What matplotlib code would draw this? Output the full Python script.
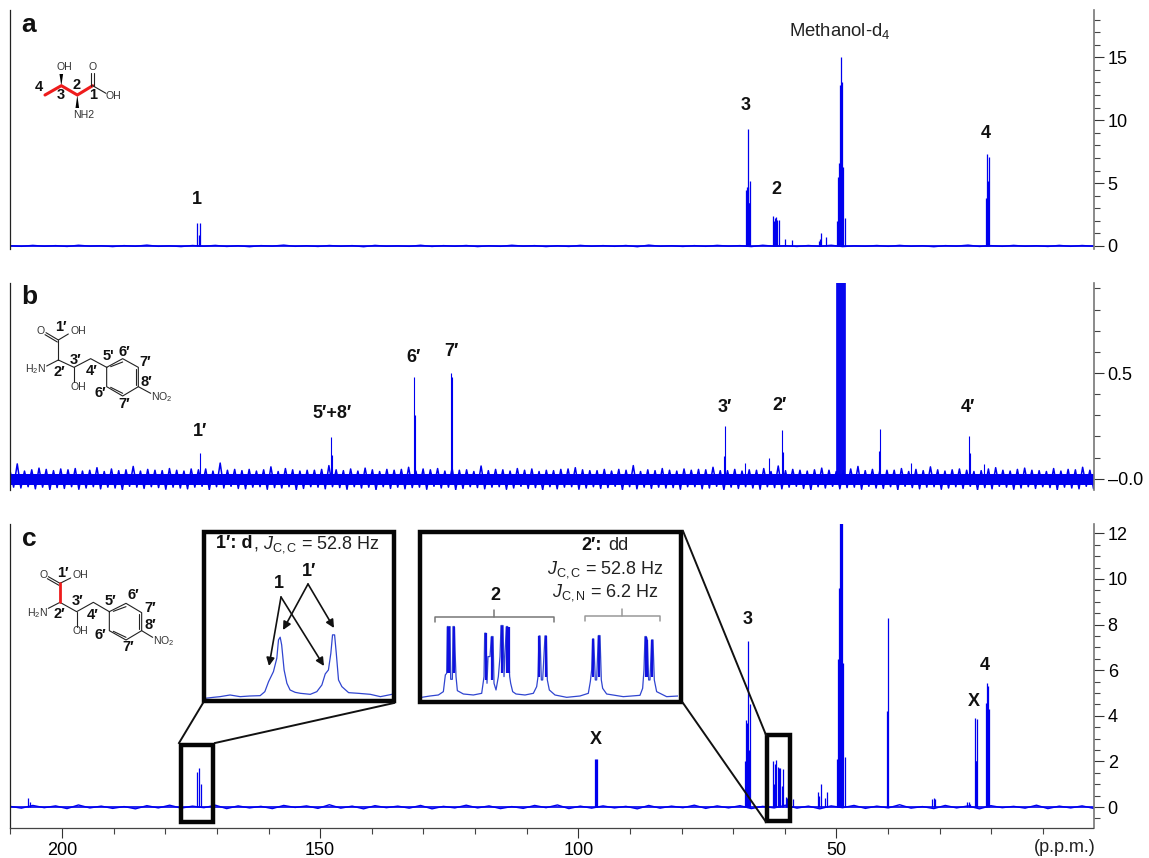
import numpy as np
import matplotlib
matplotlib.use("Agg")
import matplotlib.pyplot as plt
from matplotlib.patches import Rectangle
from matplotlib.ticker import MultipleLocator, FixedLocator, FixedFormatter

plt.rcParams['font.family'] = ['Liberation Sans', 'DejaVu Sans']
plt.rcParams['mathtext.fontset'] = 'custom'
plt.rcParams['mathtext.rm'] = 'Liberation Sans'
plt.rcParams['mathtext.it'] = 'Liberation Sans:italic'
plt.rcParams['mathtext.bf'] = 'Liberation Sans:bold'

W, H = 1149, 858
BLUE = '#0000ee'

# Panel a: threonine peaks, ppm and intensity
a_ppm = [173.8, 173.5, 173.3,
         67.5, 67.3, 67.18, 67.05, 66.95, 66.86, 66.67,
         62.27, 62.08, 61.82, 61.63, 61.43, 61.18, 59.88, 58.53,
         53.36, 53.16, 52.91, 51.94,
         49.87, 49.61, 49.42, 49.22, 49.03, 48.84, 48.64, 48.38,
         20.99, 20.80, 20.61, 20.41]
a_int = [1.83, 0.9, 1.8,
         4.45, 4.7, 4.7, 9.3, 3.4, 3.4, 5.2,
         2.4, 2.0, 2.25, 2.3, 2.1, 2.1, 0.55, 0.45,
         0.4, 0.55, 1.0, 0.7,
         2.0, 5.5, 6.6, 12.8, 15.0, 13.0, 6.3, 2.2,
         3.8, 7.3, 5.2, 7.1]
a_noise = [0.02, -0.03, 0.05, -0.02, 0.03, -0.04, 0.06, -0.01, 0.02, -0.05, 0.03, -0.02, 0.07, -0.03, 0.01, -0.05,
           0.04, -0.02, 0.05, -0.04, 0.02, -0.06, 0.03, -0.01, 0.07, -0.03, 0.02, -0.04, 0.04, -0.02, 0.03, -0.06,
           0.05, -0.02, 0.01, -0.03, 0.06, -0.04, 0.03, -0.02, 0.04, -0.05, 0.02, -0.03, 0.06, -0.01, 0.03, -0.05,
           0.02, -0.04, 0.05, -0.02, 0.03, -0.03, 0.04, -0.06, 0.07, -0.02, 0.02, -0.04, 0.03, -0.03, 0.05, -0.01,
           0.03, -0.05, 0.06, -0.02, 0.02, -0.04, 0.04, -0.03, 0.06, -0.05, 0.01, -0.02, 0.04, -0.03, 0.05, -0.02,
           0.02, -0.06, 0.03, -0.01, 0.07, -0.04, 0.03, -0.03, 0.05, -0.02, 0.02, -0.04, 0.05, -0.03, 0.04, -0.02]

# Panel b: natural abundance spectrum
b_ppm = [173.2, 147.87, 147.7, 131.78, 131.6, 124.6, 124.4,
         71.84, 71.64, 67.77, 63.1, 60.53, 60.34,
         41.67, 41.48, 35.53, 24.36, 24.16, 21.45]
b_int = [0.123, 0.196, 0.11, 0.48, 0.30, 0.50, 0.48,
         0.107, 0.25, 0.073, 0.096, 0.23, 0.128,
         0.13, 0.235, 0.073, 0.2, 0.12, 0.07]
b_solvent_ppm = [49.87, 49.7, 49.5, 49.3, 49.1, 48.9, 48.7, 48.5, 48.26]
b_solvent_int = [1.0, 1.0, 1.0, 1.0, 1.0, 1.0, 1.0, 1.0, 1.0]
# noise read in thousandths, alternately above and below the baseline
b_noise = [38, -40, 70, -44, 36, -38, 42, -48, 50, -40, 44, -52, 38, -42, 46, -46, 42, -38, 48, -50,
           36, -44, 40, -38, 52, -48, 34, -40, 46, -44, 38, -52, 42, -36, 58, -40, 36, -46, 44, -38,
           40, -42, 38, -50, 48, -40, 40, -44, 36, -48, 46, -40, 42, -36, 46, -52, 36, -38, 74, -44,
           40, -36, 44, -46, 38, -48, 44, -40, 36, -38, 42, -50, 56, -42, 34, -44, 48, -38, 42, -52,
           36, -46, 40, -38, 40, -40, 44, -48, 62, -38, 42, -42, 38, -50, 46, -38, 36, -44, 50, -40,
           42, -52, 34, -38, 44, -46, 40, -40, 44, -48, 54, -42, 36, -40, 46, -50, 42, -36, 48, -44,
           36, -40, 50, -52, 40, -46, 42, -38, 34, -42, 60, -48, 38, -40, 44, -38, 42, -50, 36, -44,
           48, -36, 40, -46, 46, -42, 34, -52, 40, -38, 38, -48, 44, -40, 46, -38, 52, -50, 42, -44,
           38, -38, 38, -46, 44, -42, 36, -36, 44, -52, 40, -38, 62, -48, 34, -40, 42, -46, 38, -40,
           48, -44, 40, -42, 36, -50, 46, -38, 40, -38, 44, -48, 42, -44, 54, -36, 38, -52, 38, -40,
           44, -46, 36, -38, 42, -44, 40, -50, 48, -38, 34, -42, 60, -48, 38, -40, 44, -36, 40, -46,
           36, -52, 42, -38, 50, -44, 40, -36, 34, -48, 38, -42, 46, -40, 58, -50, 38, -36, 44, -44,
           36, -46, 40, -38, 40, -52, 48, -36, 34, -42, 44, -48, 38, -40, 56, -38, 42, -50, 36, -44,
           42, -38, 46, -46, 40, -36, 34, -52, 38, -42, 46, -48, 52, -36, 40, -40, 36, -50, 44, -44,
           50, -38, 40, -46, 38, -38, 34, -42, 48, -52, 36, -40, 44, -44, 42, -48, 54, -36, 40, -46]

# Panel c: labelled sample
c_ppm = [206.5, 206.2, 173.78, 173.4, 173.1, 96.7, 96.5, 96.3,
         67.7, 67.5, 67.3, 67.12, 66.99, 66.73,
         62.27, 62.08, 61.82, 61.63, 61.37, 61.11, 60.85, 60.6, 60.27, 59.82, 59.56, 58.4,
         53.55, 53.36, 52.91, 52.13, 51.87,
         49.87, 49.61, 49.42, 49.22, 49.03, 48.84, 48.64, 48.38,
         40.12, 39.92, 31.46, 31.14, 30.94, 24.68, 24.35, 24.16,
         23.13, 23.0, 22.93, 22.67, 20.99, 20.80, 20.61, 20.41]
c_int = [0.4, 0.2, 1.55, 1.7, 1.0, 2.09, 2.09, 2.09,
         2.0, 3.8, 3.7, 7.3, 2.5, 4.5,
         2.0, 1.0, 1.9, 2.05, 1.75, 1.7, 1.7, 0.9, 1.65, 0.45, 0.4, 0.35,
         0.65, 0.5, 1.0, 0.4, 0.65,
         2.1, 6.5, 9.6, 13.0, 13.0, 13.0, 6.3, 2.2,
         4.2, 8.3, 0.35, 0.38, 0.35, 0.2, 0.22, 0.15,
         3.9, 2.0, 2.0, 3.85, 4.55, 5.45, 5.3, 4.3]
c_noise = [0.03, -0.05, 0.07, -0.03, 0.05, -0.07, 0.09, -0.04, 0.04, -0.06, 0.02, -0.08, 0.06, -0.04, 0.08, -0.05,
           0.04, -0.03, 0.08, -0.07, 0.05, -0.04, 0.03, -0.07, 0.07, -0.02, 0.05, -0.06, 0.1, -0.05, 0.04, -0.08,
           0.06, -0.03, 0.04, -0.05, 0.07, -0.08, 0.03, -0.04, 0.08, -0.04, 0.05, -0.07, 0.02, -0.06, 0.07, -0.03,
           0.09, -0.07, 0.04, -0.05, 0.05, -0.04, 0.03, -0.08, 0.07, -0.05, 0.04, -0.03, 0.08, -0.06, 0.05, -0.04,
           0.06, -0.07, 0.03, -0.04, 0.08, -0.05, 0.04, -0.08, 0.05, -0.03, 0.07, -0.06, 0.04, -0.04, 0.1, -0.05,
           0.02, -0.07, 0.07, -0.04, 0.05, -0.08, 0.06, -0.03, 0.03, -0.05, 0.08, -0.07, 0.04, -0.04, 0.05, -0.06]

# Inset spectra, position across the inset and height above its floor
inset1_x = [0, 4.5, 8, 13.4, 18.8, 24, 29.5, 32, 34, 36.6, 38.4, 39.3, 40.2, 41, 42.3, 43.8, 45.5, 48.2, 51, 56.3,
            59.8, 62.5, 64.3, 66, 67.3, 68.2, 69.3, 70.2, 71.4, 73.2, 76.8, 82, 88.4, 93.8, 100]
inset1_y = [2.5, 4, 5, 7.5, 5, 6, 6.5, 12.5, 27.5, 42.5, 62.5, 90, 94, 82.5, 45, 25, 15, 11.5, 10, 8.5,
            12.5, 22.5, 39, 45, 70, 97.5, 97.5, 70, 30, 20, 11, 10, 8.5, 5, 8.5]

inset2_x = [35, 60, 85, 100, 106, 110, 112, 115, 117, 120, 122, 127, 129, 133, 135, 138, 142, 160, 190, 215,
            222, 224, 228, 231, 234, 240, 244, 249, 252, 258, 265, 270, 273, 279, 282, 285, 289, 293, 296, 299, 302, 308, 318, 345, 370,
            380, 384, 387, 390, 394, 398, 405, 409, 412, 418, 435, 470, 510, 535, 541,
            545, 548, 551, 556, 560, 565, 570, 574, 578, 590, 640, 690, 698, 702, 705, 709, 712, 716, 720, 725, 729, 733, 740, 770, 805]
inset2_y = [8, 12, 15, 25, 75, 80, 220, 220, 218, 220, 62, 62, 220, 220, 150, 70, 28, 18, 15, 20,
            70, 200, 200, 50, 130, 130, 190, 190, 50, 30, 70, 130, 223, 223, 70, 140, 220, 220, 130, 70, 50, 25, 18, 15, 20,
            40, 70, 192, 192, 60, 60, 192, 192, 60, 30, 15, 8, 12, 20, 55,
            90, 183, 183, 60, 60, 193, 193, 60, 35, 18, 10, 14, 35, 90, 190, 190, 180, 60, 60, 180, 180, 60, 25, 10, 12]
# heavier lines of the multiplets in the second inset
inset2_stick_x = [113, 118, 131, 227, 247, 276, 291, 297, 388, 407, 548, 568, 707, 712, 727]
inset2_stick_hi = [220, 220, 220, 200, 190, 223, 220, 220, 192, 192, 183, 193, 190, 180, 180]
inset2_stick_lo = [80, 80, 80, 60, 60, 80, 80, 80, 70, 70, 70, 70, 70, 70, 70]

x_major = [200, 150, 100, 50]
x_minor = [210, 190, 180, 170, 160, 140, 130, 120, 110, 90, 80, 70, 60, 40, 30, 20, 10]


def box(l, t, r, b):
    return [l / W, 1 - b / H, (r - l) / W, (b - t) / H]


fig = plt.figure(figsize=(W / 100, H / 100), dpi=100, facecolor='white')

xlim = (210.08, 0.2)


def spectrum_axes(t, b, ylim):
    ax = fig.add_axes(box(10, t, 1093.5, b))
    ax.set_xlim(xlim)
    ax.set_ylim(ylim)
    ax.yaxis.tick_right()
    for s in ['top', 'bottom']:
        ax.spines[s].set_visible(False)
    ax.spines['left'].set_color('#222222')
    ax.spines['left'].set_linewidth(0.9)
    ax.spines['right'].set_color('#777777')
    ax.spines['right'].set_linewidth(1.2)
    ax.set_xticks([])
    ax.tick_params(axis='y', which='major', length=7.2, width=0.8, color='#333333', labelsize=13, pad=3)
    ax.tick_params(axis='y', which='minor', length=4.3, width=0.8, color='#444444')
    return ax


# a
ax_a = spectrum_axes(10, 249, (-0.24, 18.76))
ax_a.vlines(a_ppm, 0, a_int, color=BLUE, lw=0.9)
ax_a.axhline(0, color=BLUE, lw=1.2)
ax_a.plot(np.linspace(*xlim, len(a_noise)), a_noise, color=BLUE, lw=1.0)
ax_a.yaxis.set_major_locator(FixedLocator([0, 5, 10, 15]))
ax_a.yaxis.set_minor_locator(MultipleLocator(1))

# b
ax_b = spectrum_axes(283, 490, (-0.0535, 0.926))
ax_b.axhspan(-0.03, 0.022, color=BLUE, lw=0)
ax_b.plot(np.linspace(*xlim, len(b_noise)), np.array(b_noise) / 1000, color=BLUE, lw=1.1)
ax_b.vlines(b_ppm, 0, b_int, color=BLUE, lw=0.8)
ax_b.vlines(b_solvent_ppm, 0, b_solvent_int, color=BLUE, lw=1.2)
ax_b.yaxis.set_major_locator(FixedLocator([0, 0.5]))
ax_b.yaxis.set_major_formatter(FixedFormatter(['\u20130.0', '0.5']))
ax_b.yaxis.set_minor_locator(MultipleLocator(0.1))

# c
ax_c = spectrum_axes(524, 828, (-0.92, 12.41))
ax_c.vlines(c_ppm, 0, c_int, color=BLUE, lw=0.9)
ax_c.axhline(0, color=BLUE, lw=1.2)
ax_c.plot(np.linspace(*xlim, len(c_noise)), c_noise, color=BLUE, lw=1.0)
ax_c.yaxis.set_major_locator(FixedLocator([0, 2, 4, 6, 8, 10, 12]))
ax_c.yaxis.set_minor_locator(MultipleLocator(0.5))
ax_c.spines['bottom'].set_visible(True)
ax_c.spines['bottom'].set_color('#444444')
ax_c.spines['bottom'].set_linewidth(0.9)
ax_c.xaxis.set_major_locator(FixedLocator(x_major))
ax_c.xaxis.set_minor_locator(FixedLocator(x_minor))
ax_c.tick_params(axis='x', which='major', length=7, width=0.8, color='#333333', labelsize=13, pad=3)
ax_c.tick_params(axis='x', which='minor', length=4.5, width=0.8, color='#444444')

# insets
in1 = fig.add_axes(box(205, 533, 392, 700), zorder=5)
in1.set_xlim(0, 100)
in1.set_ylim(0, 250)
in1.axis('off')
in1.plot(inset1_x, inset1_y, color='#3045d0', lw=0.9)

in2 = fig.add_axes(box(421.7, 533, 678.3, 700), zorder=5)
in2.set_xlim(35, 805)
in2.set_ylim(0, 500)
in2.axis('off')
in2.plot(inset2_x, inset2_y, color='#3045d0', lw=0.9)
in2.vlines(inset2_stick_x, inset2_stick_lo, inset2_stick_hi, color='#1010e0', lw=1.6)

# overlay in picture pixels for structures, frames and labels
ov = fig.add_axes([0, 0, 1, 1], zorder=10)
ov.set_xlim(0, W)
ov.set_ylim(H, 0)
ov.axis('off')
ov.patch.set_alpha(0)


def bonds(segs, ox, oy, color='#222222', lw=0.8):
    for p in segs:
        ov.plot([ox + q[0] / 3 for q in p], [oy + q[1] / 3 for q in p], color=color, lw=lw,
                solid_capstyle='round')


def atom(z, ox, oy, s, size=7.6, color='#333333'):
    ov.text(ox + z[0] / 3, oy + z[1] / 3, s, fontsize=size, color=color, ha='center', va='center')


def num(z, ox, oy, s, size=10.5):
    ov.text(ox + z[0] / 3, oy + z[1] / 3, s, fontsize=size, fontweight='bold', color='#111111',
            ha='center', va='center')


# structure a
bonds([[(135, 285), (184, 257), (232, 285), (278, 257)]], 0, 0, color='#ee1c1c', lw=2.2)
bonds([[(278, 257), (318, 280)], [(274, 257), (274, 218)], [(283, 257), (283, 218)]], 0, 0)
ov.fill([61.3 - 1.8, 61.3 + 1.8, 61.3], [74, 74, 86], color='black', lw=0)
ov.fill([77.3 - 1.8, 77.3 + 1.8, 77.3], [108, 108, 95], color='black', lw=0)
atom((193, 202), 0, 0, 'OH')
atom((279, 202), 0, 0, 'O')
atom((340, 287), 0, 0, 'OH')
atom((251, 344), 0, 0, 'NH2')
num((118, 260), 0, 0, '4')
num((182, 285), 0, 0, '3')
num((231, 256), 0, 0, '2')
num((279, 285), 0, 0, '1')

# structure b
bonds([[(175, 180), (138, 158)], [(172, 186), (135, 164)], [(175, 180), (205, 162)], [(175, 180), (175, 240)],
       [(175, 240), (140, 258)], [(175, 240), (222, 262), (272, 236), (320, 262)], [(222, 262), (222, 305)],
       [(320, 262), (368, 236), (415, 262), (415, 320), (368, 348), (320, 320), (320, 262)],
       [(332, 260), (368, 246)], [(407, 268), (407, 314)], [(332, 322), (368, 340)], [(415, 320), (452, 340)]], 0, 280)
atom((122, 154), 0, 280, 'O')
atom((234, 154), 0, 280, 'OH')
atom((106, 266), 0, 280, 'H$_2$N')
atom((234, 322), 0, 280, 'OH')
atom((486, 352), 0, 280, 'NO$_2$')
num((183, 141), 0, 280, '1\u2032')
num((178, 276), 0, 280, '2\u2032')
num((228, 240), 0, 280, '3\u2032')
num((276, 272), 0, 280, '4\u2032')
num((324, 228), 0, 280, "5'")
num((374, 216), 0, 280, '6\u2032')
num((436, 245), 0, 280, '7\u2032')
num((440, 305), 0, 280, '8\u2032')
num((300, 340), 0, 280, '6\u2032')
num((374, 372), 0, 280, '7\u2032')

# structure c
bonds([[(180, 190), (145, 170)], [(177, 196), (142, 176)], [(180, 190), (212, 174)],
       [(180, 247), (145, 265)], [(180, 247), (230, 275), (280, 247), (328, 275)], [(230, 275), (230, 320)],
       [(328, 275), (378, 250), (425, 278), (425, 332), (378, 360), (328, 332), (328, 275)],
       [(340, 274), (378, 260)], [(417, 282), (417, 326)], [(340, 334), (378, 352)], [(425, 332), (458, 352)]], 0, 520)
bonds([[(180, 190), (180, 247)]], 0, 520, color='#ee1c1c', lw=2.0)
atom((130, 166), 0, 520, 'O')
atom((242, 166), 0, 520, 'OH')
atom((112, 278), 0, 520, 'H$_2$N')
atom((242, 334), 0, 520, 'OH')
atom((490, 364), 0, 520, 'NO$_2$')
num((188, 160), 0, 520, '1\u2032')
num((178, 282), 0, 520, '2\u2032')
num((232, 244), 0, 520, '3\u2032')
num((278, 284), 0, 520, '4\u2032')
num((330, 243), 0, 520, '5\u2032')
num((400, 226), 0, 520, '6\u2032')
num((452, 264), 0, 520, '7\u2032')
num((452, 315), 0, 520, '8\u2032')
num((302, 345), 0, 520, '6\u2032')
num((384, 380), 0, 520, '7\u2032')

# panel letters and peak labels
for s, x, y in [('a', 29, 25), ('b', 29, 297), ('c', 29, 539)]:
    ov.text(x, y, s, fontsize=19, fontweight='bold', color='#111111', ha='center', va='center')
peak_labels = [('1', 197, 200), ('3', 746, 105), ('2', 776, 190), ('4', 986, 133),
               ('1\u2032', 200, 431), ('5\u2032+8\u2032', 332, 414), ('6\u2032', 414, 357), ('7\u2032', 451, 352),
               ('3\u2032', 725, 407), ('2\u2032', 780, 406), ('4\u2032', 968, 407),
               ('X', 596, 740), ('3', 748, 620), ('X', 974, 701), ('4', 985, 665)]
for s, x, y in peak_labels:
    ov.text(x, y, s, fontsize=13, fontweight='bold', color='#111111', ha='center', va='center')
ov.text(840, 31, 'Methanol-d$_4$', fontsize=13.3, color='#222222', ha='center', va='center')
ov.text(1065, 847, '(p.p.m.)', fontsize=13, color='#222222', ha='center', va='center')

# zoom frames and their leader lines
for l, t, r, b in [(204, 532, 394, 701), (419.5, 532, 681, 702), (181, 745, 213, 822), (767, 735, 790, 821)]:
    ov.add_patch(Rectangle((l, t), r - l, b - t, fill=False, ec='#050505', lw=3.2, joinstyle='miter'))
for x0, y0, x1, y1 in [(179, 743, 203, 703), (215, 743, 394, 703), (683, 531, 766, 735), (683, 703, 766, 822)]:
    ov.plot([x0, x1], [y0, y1], color='#111111', lw=1.4)

# inset 1 text and arrows
ov.text(216, 544, '1\u2032: d', fontsize=13, fontweight='bold', color='#111111', ha='left', va='center')
ov.text(253, 545, ', $\\mathit{J}_{\\mathrm{C,C}}$ = 52.8 Hz', fontsize=13, color='#222222', ha='left', va='center')
ov.text(279, 583, '1', fontsize=13, fontweight='bold', color='#111111', ha='center', va='center')
ov.text(309, 571, '1\u2032', fontsize=13, fontweight='bold', color='#111111', ha='center', va='center')
for x0, y0, x1, y1 in [(281, 597, 269, 666), (281, 597, 324, 666), (308, 584, 283, 630), (308, 584, 334, 628)]:
    ov.annotate('', xy=(x1, y1), xytext=(x0, y0),
                arrowprops=dict(arrowstyle='-|>', color='#111111', lw=1.2, shrinkA=0, shrinkB=0, mutation_scale=12))

# inset 2 text and brackets
ov.text(592, 546, '2\u2032:', fontsize=13, fontweight='bold', color='#111111', ha='center', va='center')
ov.text(608, 546, 'dd', fontsize=13, color='#222222', ha='left', va='center')
ov.text(606, 570, '$\\mathit{J}_{\\mathrm{C,C}}$ = 52.8 Hz', fontsize=13, color='#222222', ha='center', va='center')
ov.text(606, 593, '$\\mathit{J}_{\\mathrm{C,N}}$ = 6.2 Hz', fontsize=13, color='#222222', ha='center', va='center')
ov.text(495, 596, '2', fontsize=13, fontweight='bold', color='#111111', ha='center', va='center')
bonds([[(75, 305), (75, 290), (432, 290), (432, 305)], [(253, 290), (253, 270)]], 410, 520, color='#777777', lw=1.1)
bonds([[(524, 303), (524, 288), (750, 288), (750, 303)], [(636, 288), (636, 268)]], 410, 520, color='#999999', lw=1.1)

fig.savefig('out.png', dpi=100)
